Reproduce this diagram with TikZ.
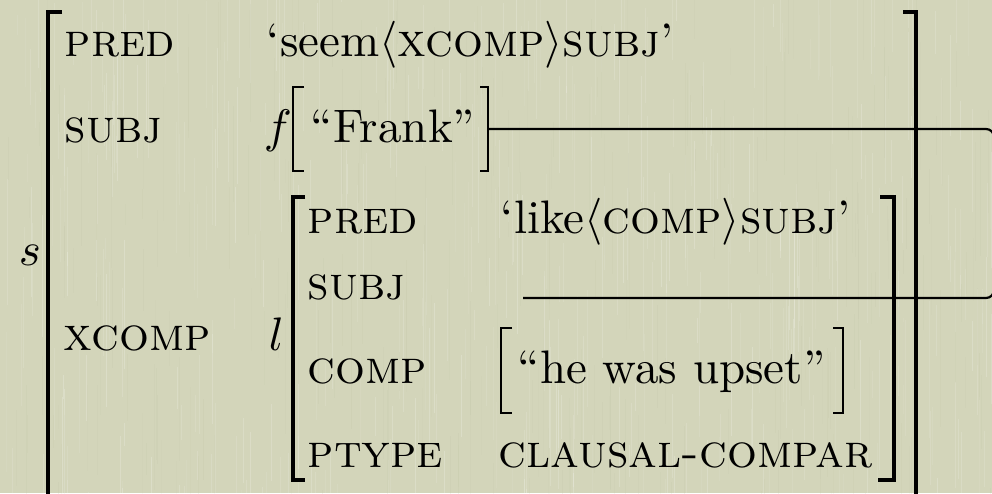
\documentclass[tikz,border=0pt]{standalone}
\definecolor{paper}{RGB}{211,213,186}
\definecolor{paperdark}{RGB}{190,194,163}
\begin{document}
\begin{tikzpicture}[x=1pt,y=-1pt,
  lbl/.style={inner sep=0pt, anchor=base west, scale=4.7, transform shape},
  brkout/.style={line width=3.6pt, line cap=butt, line join=miter},
  brkin/.style={line width=3.2pt, line cap=butt, line join=miter},
  brksmall/.style={line width=2.4pt, line cap=butt, line join=miter},
  link/.style={line width=2.2pt, rounded corners=8pt}]
% paper background with fine vertical fibres
\fill[paper] (0,0) rectangle (992,493);
\useasboundingbox (0,0) rectangle (992,493);
\pgfmathsetseed{11}
\foreach \i in {1,...,420} {
  \pgfmathsetmacro\xx{random(0,992)}
  \pgfmathsetmacro\yy{random(-40,493)}
  \pgfmathsetmacro\ll{random(20,140)}
  \pgfmathsetmacro\op{0.06+0.14*rnd}
  \draw[white, opacity=\op, line width=0.9pt] (\xx,\yy) -- (\xx,\yy+\ll);
}
\foreach \i in {1,...,260} {
  \pgfmathsetmacro\xx{random(0,992)}
  \pgfmathsetmacro\yy{random(-40,493)}
  \pgfmathsetmacro\ll{random(20,140)}
  \pgfmathsetmacro\op{0.06+0.12*rnd}
  \draw[paperdark, opacity=\op, line width=0.9pt] (\xx,\yy) -- (\xx,\yy+\ll);
}

% outer f-structure s
\node[lbl] (sname) at (18,265) {$s$};
\draw[brkout] (62,12) -- (48,12) -- (48,500);
\draw[brkout] (903,12) -- (916,12) -- (916,500);
\node[lbl] (pred) at (64,56) {\textsc{pred}};
\node[lbl] (subj) at (64,142) {\textsc{subj}};
\node[lbl] (xcomp) at (63,350) {\textsc{xcomp}};
\node[lbl] (seem) at (266,56) {`seem$\langle$\textsc{xcomp}$\rangle$\textsc{subj}'};

% subject f-structure f
\node[lbl] (fname) at (263,142) {$f$};
\node[lbl] (frank) at (310,142) {``Frank''};
\draw[brksmall] (304,87) -- (293,87) -- (293,171) -- (304,171);
\draw[brksmall] (480,87) -- (488,87) -- (488,171) -- (480,171);
\coordinate (frankR) at (488,129);

% embedded f-structure l
\node[lbl] (lname) at (268,350) {$l$};
\draw[brkin] (305,197) -- (293,197) -- (293,480) -- (305,480);
\draw[brkin] (880,197) -- (894,197) -- (894,480) -- (878,480);
\node[lbl] (lpred) at (307,233) {\textsc{pred}};
\node[lbl] (lsubj) at (307,299) {\textsc{subj}};
\node[lbl] (lcomp) at (307,383) {\textsc{comp}};
\node[lbl] (lptype) at (307,467) {\textsc{ptype}};
\node[lbl] (like) at (500,233) {`like$\langle$\textsc{comp}$\rangle$\textsc{subj}'};
\node[lbl] (upset) at (517,383) {``he was upset''};
\draw[brksmall] (512,328) -- (501,328) -- (501,413) -- (512,413);
\draw[brksmall] (833,328) -- (843,328) -- (843,413) -- (833,413);
\node[lbl] (ptypeval) at (498,467) {\textsc{clausal-compar}};
\coordinate (lsubjval) at (523,298);

% structure sharing link between the two subjects
\coordinate (turn) at (994,213);
\draw[link] (frankR) -| (turn) |- (lsubjval);
\end{tikzpicture}
\end{document}
